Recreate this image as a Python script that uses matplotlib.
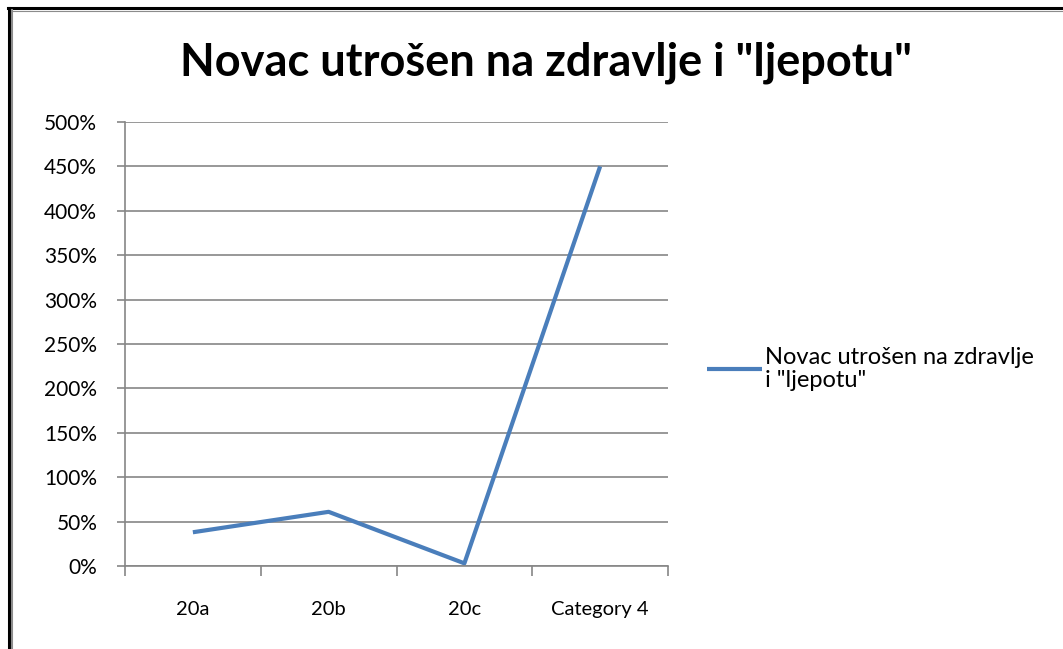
import matplotlib
matplotlib.use("Agg")
import matplotlib.pyplot as plt
from matplotlib.lines import Line2D
from matplotlib.ticker import FuncFormatter

plt.rcParams['font.family'] = ['Lato', 'DejaVu Sans']

categories = ["20a", "20b", "20c", "Category 4"]
values = [0.38, 0.61, 0.03, 4.50]
series_name = 'Novac utrošen na zdravlje\ni "ljepotu"'
title = 'Novac utrošen na zdravlje i "ljepotu"'

W, H = 1063, 649
fig = plt.figure(figsize=(W / 100, H / 100), dpi=100)
ax = fig.add_axes([125 / W, 1 - 566 / H, (668 - 125) / W, (566 - 122) / H])

x = list(range(len(categories)))
line, = ax.plot(x, values, color="#4A7EBB", linewidth=3.0, solid_capstyle="butt")

ax.set_xlim(-0.5, len(categories) - 0.5)
ax.set_ylim(0, 5)
ax.set_yticks([i * 0.5 for i in range(11)])
ax.yaxis.set_major_formatter(FuncFormatter(lambda v, p: "%d%%" % round(v * 100)))
ax.grid(axis="y", color="#868686", linewidth=1.2)
ax.set_axisbelow(True)

ax.set_xticks([i - 0.5 for i in range(len(categories) + 1)])
ax.set_xticklabels([])
ax.set_xticks(x, minor=True)
ax.set_xticklabels(categories, minor=True)
ax.tick_params(axis="x", which="major", length=7, width=1.2, color="#868686")
ax.tick_params(axis="x", which="minor", length=0, pad=25, labelsize=14.5)
ax.tick_params(axis="y", length=6, width=1.2, color="#868686", pad=14, labelsize=15)

for s in ["top", "right"]:
    ax.spines[s].set_visible(False)
for s in ["left", "bottom"]:
    ax.spines[s].set_color("#868686")
    ax.spines[s].set_linewidth(1.2)

fig.text(546 / W, 1 - 63 / H, title, ha="center", va="center",
         fontsize=32.5, fontweight="bold")

leg = fig.legend([line], [series_name], loc="center left",
                 bbox_to_anchor=(698 / W, 1 - 369 / H), frameon=False,
                 fontsize=17, handlelength=2.3, handletextpad=0.15,
                 borderaxespad=0)
for t in leg.get_texts():
    t.set_linespacing(1.1)

# chart border (only top and left edges visible)
fig.add_artist(Line2D([8 / W, 1], [1 - 8 / H, 1 - 8 / H], color="black", linewidth=2.2))
fig.add_artist(Line2D([8.5 / W, 8.5 / W], [0, 1 - 8 / H], color="black", linewidth=2.2))
fig.add_artist(Line2D([12 / W, 12 / W], [0, 1 - 10 / H], color="#8c8c8c", linewidth=1.5))
fig.add_artist(Line2D([12 / W, 1], [1 - 10.5 / H, 1 - 10.5 / H], color="#8c8c8c", linewidth=0.8))

fig.savefig("out.png", dpi=100)
